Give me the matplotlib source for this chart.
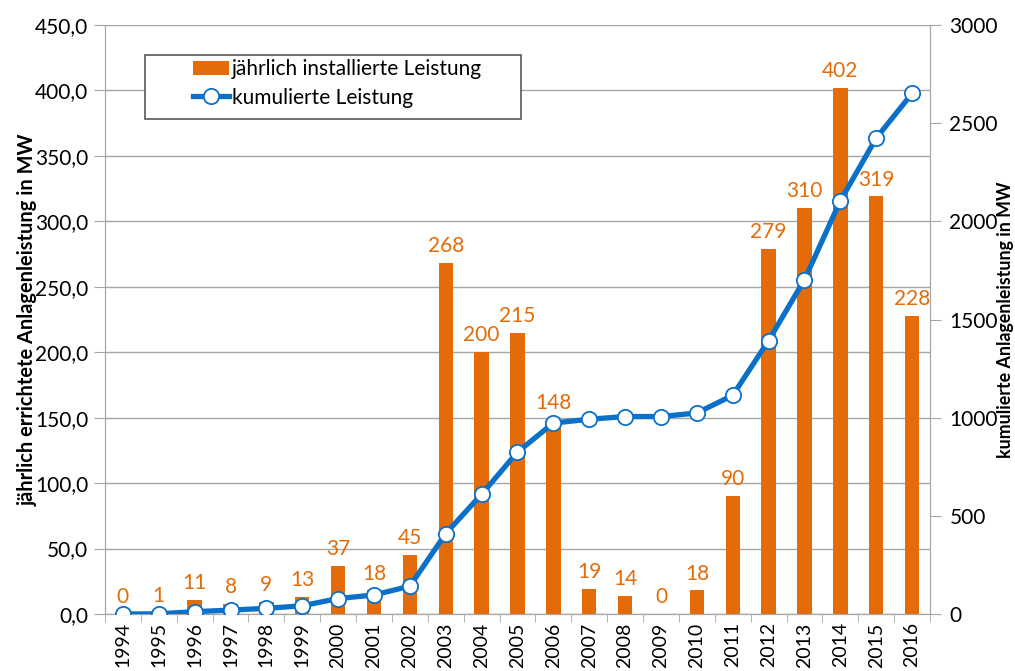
import numpy as np
import matplotlib.pyplot as plt
from matplotlib.patches import Rectangle
from matplotlib.ticker import FuncFormatter, FixedLocator

plt.rcParams['font.family'] = ['Lato', 'DejaVu Sans']

years = [str(y) for y in range(1994, 2017)]
annual_mw = [0, 1, 11, 8, 9, 13, 37, 18, 45, 268, 200, 215, 148,
             19, 14, 0, 18, 90, 279, 310, 402, 319, 228]
cumulative_mw = [0, 1, 12, 20, 29, 42, 79, 97, 142, 410, 610, 825, 973,
                 992, 1006, 1006, 1024, 1114, 1393, 1703, 2105, 2424, 2652]

orange = '#E36C09'
blue = '#0A70C8'
grid_c = '#A6A6A6'
fs = 15

fig = plt.figure(figsize=(10.15, 6.71), dpi=100)
ax = fig.add_axes([0.1034, 0.0849, 0.8129, 0.8778])
ax2 = ax.twinx()

x = np.arange(len(years))
bars = ax.bar(x, annual_mw, width=0.4, color=orange, zorder=2)
for xi, v in zip(x, annual_mw):
    ax.annotate(str(v), (xi, v), xytext=(0, 5), textcoords='offset points',
                ha='center', va='bottom', color=orange, fontsize=fs)

line, = ax2.plot(x, cumulative_mw, color=blue, lw=3.8, marker='o',
                 markersize=11, markerfacecolor='white', markeredgecolor=blue,
                 markeredgewidth=1.3, zorder=3)

ax.set_xlim(-0.5, len(years) - 0.5)
ax.set_ylim(0, 450)
ax2.set_ylim(0, 3000)
ax.set_yticks(np.arange(0, 451, 50))
ax2.set_yticks(np.arange(0, 3001, 500))
ax.yaxis.set_major_formatter(FuncFormatter(lambda v, p: f'{v:.1f}'.replace('.', ',')))

ax.set_xticks(x)
ax.set_xticklabels(years, rotation=90, fontsize=14)
ax.xaxis.set_minor_locator(FixedLocator(np.arange(-0.5, len(years), 1)))
ax.tick_params(axis='x', which='major', length=0, pad=6)
ax.tick_params(axis='x', which='minor', length=6, color=grid_c)
ax.tick_params(axis='y', length=8, color=grid_c, labelsize=fs, pad=4)
ax2.tick_params(axis='y', length=8, color=grid_c, labelsize=fs, pad=6)

ax.yaxis.grid(True, color=grid_c, lw=1)
ax.set_axisbelow(True)
for a in (ax, ax2):
    a.spines['top'].set_visible(False)
    for s in ('left', 'right', 'bottom'):
        a.spines[s].set_color(grid_c)

ax.set_ylabel('jährlich errichtete Anlagenleistung in MW', fontsize=14.4,
              fontweight='bold')
ax.yaxis.set_label_coords(-0.081, 0.5)
ax2.set_ylabel('kumulierte Anlagenleistung in MW', fontsize=12.8,
               fontweight='bold')
ax2.yaxis.set_label_coords(1.081, 0.5)

# legend box drawn separately so the entries sit inset from its left edge
ax2.add_patch(Rectangle((0.0485, 0.840), 0.4555, 0.109, transform=ax2.transAxes,
                        facecolor='white', edgecolor='#595959', lw=1.2,
                        zorder=4, clip_on=False))
leg = ax2.legend([bars, line], ['jährlich installierte Leistung', 'kumulierte Leistung'],
                 loc='upper left', bbox_to_anchor=(0.1067, 0.942), fontsize=fs,
                 frameon=False, borderpad=0, handlelength=1.75, handletextpad=0.1,
                 labelspacing=0.4, borderaxespad=0)
leg.set_zorder(5)

fig.savefig('out.png', dpi=100)
